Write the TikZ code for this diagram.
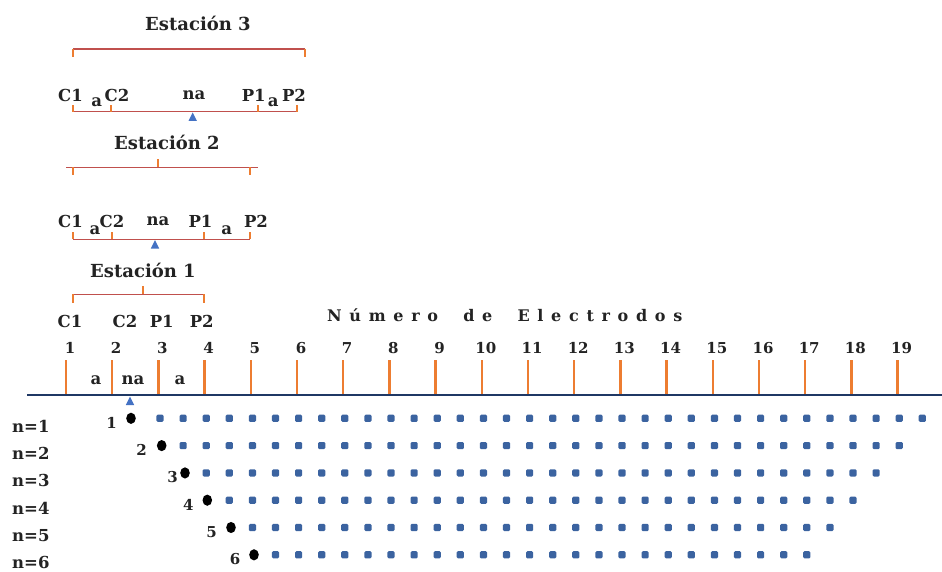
\documentclass[tikz,border=0pt]{standalone}
\usepackage{fontspec}
\setmainfont{DejaVu Serif}
\definecolor{eorange}{RGB}{237,125,49}
\definecolor{bred}{RGB}{192,80,77}
\definecolor{navy}{RGB}{31,56,100}
\definecolor{sqblue}{RGB}{59,99,160}
\definecolor{triblue}{RGB}{68,114,196}
\definecolor{txt}{RGB}{35,35,35}
\begin{document}
\begin{tikzpicture}[x=1pt,y=-1pt,
  lbl/.style={font=\bfseries\fontsize{16.5}{16.5}\selectfont, text=txt, inner sep=0pt},
  ttl/.style={font=\bfseries\fontsize{18}{18}\selectfont, text=txt, inner sep=0pt},
  num/.style={font=\bfseries\fontsize{15}{15}\selectfont, text=txt, inner sep=0pt},
  etick/.style={draw=eorange, line width=2.4pt},
  btick/.style={draw=eorange, line width=2pt},
  bline/.style={draw=bred, line width=1.4pt},
  sq/.style={fill=sqblue, rounded corners=1.3pt},
  tri/.style={fill=triblue},
  blk/.style={fill=black}]
\useasboundingbox (0,0) rectangle (942,572);
\fill[white] (0,0) rectangle (942,572);

% ---------- Estacion 3 ----------
\node[ttl] (t3) at (198,23) {Estación 3};
\coordinate (s3a) at (73,49); \coordinate (s3b) at (305,49);
\draw[bline] (s3a) -- (s3b);
\draw[btick] (s3a) -- ++(0,8); \draw[btick] (s3b) -- ++(0,8);
\coordinate (l3a) at (73,111.7); \coordinate (l3b) at (297,111.7);
\draw[bline] (l3a) -- (l3b);
\foreach \x in {73,111,258,297} \draw[btick] (\x,111.7) -- ++(0,-7);
\node[lbl] (s3c1) at (70.5,95) {C1};
\node[lbl] (s3c2) at (117,95) {C2};
\node[lbl] (s3na) at (194,95) {na};
\node[lbl] (s3p1) at (253.7,95) {P1};
\node[lbl] (s3p2) at (294,95) {P2};
\node[lbl] (s3a1) at (96.7,102.5) {a};
\node[lbl] (s3a2) at (273.3,102.5) {a};
\fill[tri] (188.5,121) -- (196.9,121) -- (192.7,112.5) -- cycle;

% ---------- Estacion 2 ----------
\node[ttl] (t2) at (167,142) {Estación 2};
\draw[bline] (66,167.3) -- (258,167.3);
\draw[btick] (73,167.3) -- ++(0,8); \draw[btick] (250,167.3) -- ++(0,8);
\draw[btick] (157.7,167.3) -- ++(0,-8);
\draw[bline] (73,239.3) -- (250,239.3);
\foreach \x in {73,111.7,204,250} \draw[btick] (\x,239.3) -- ++(0,-7);
\node[lbl] (s2c1) at (70.5,221.7) {C1};
\node[lbl] (s2c2) at (112,221.7) {C2};
\node[lbl] (s2na) at (158,221.7) {na};
\node[lbl] (s2p1) at (200.5,221.7) {P1};
\node[lbl] (s2p2) at (256,221.7) {P2};
\node[lbl] (s2a1) at (95,230.5) {a};
\node[lbl] (s2a2) at (226.7,230.5) {a};
\fill[tri] (150.8,248.5) -- (159.2,248.5) -- (155,240) -- cycle;

% ---------- Estacion 1 ----------
\node[ttl] (t1) at (143,270) {Estación 1};
\draw[bline] (73,294.3) -- (204,294.3);
\draw[btick] (73,294.3) -- ++(0,8.5); \draw[btick] (204,294.3) -- ++(0,8.5);
\draw[btick] (142.7,294.3) -- ++(0,-8);
\node[lbl] (c1) at (70,321.7) {C1};
\node[lbl] (c2) at (125,321.7) {C2};
\node[lbl] (p1) at (161.7,321.7) {P1};
\node[lbl] (p2) at (201.7,321.7) {P2};

% ---------- Numero de electrodos ----------
\node[font=\bfseries\fontsize{16}{16}\selectfont\addfontfeature{LetterSpace=48}, text=txt, inner sep=0pt, anchor=west]
  (ne) at (327,315) {Número\hspace{12pt} de\hspace{12pt} Electrodos};

\foreach \k in {1,...,20} {
  \pgfmathsetmacro\xx{66+(\k-1)*46.2}
  \coordinate (e\k) at (\xx,395);
  \draw[etick] (e\k) -- ++(0,-35);
}
\foreach \k in {1,...,19} {
  \pgfmathsetmacro\xx{66+(\k-1)*46.2+4}
  \node[num] (n\k) at (\xx,348) {\k};
}
\draw[navy, line width=2.6pt] (27,395) -- (942,395);
\node[lbl] (aa1) at (96,380) {a};
\node[lbl] (ana) at (133,380) {na};
\node[lbl] (aa2) at (180,380) {a};
\fill[tri] (125.8,405) -- (134.2,405) -- (130,396.5) -- cycle;

% ---------- pseudo-section ----------
\foreach \n/\dx/\lx/\lnum in {1/131/111.7/1, 2/161.7/141.7/2, 3/185/172.7/3, 4/207.3/188.3/4, 5/231/211.7/5, 6/254/235/6} {
  \pgfmathsetmacro\yy{418.3+(\n-1)*27.3}
  \node[lbl, anchor=west] (nl\n) at (12,\yy+8) {n=\n};
  \fill[blk] (\dx,\yy) ellipse [x radius=4.8pt, y radius=5.6pt];
  \node[num] (dl\n) at (\lx,\yy+4.5) {\lnum};
  \pgfmathtruncatemacro\ka{\n-1}
  \pgfmathtruncatemacro\kb{34-\n}
  \foreach \k in {\ka,...,\kb} {
    \pgfmathsetmacro\sx{160+23.1*\k}
    \fill[sq] (\sx-3.6,\yy-3.6) rectangle (\sx+3.6,\yy+3.6);
  }
}
\end{tikzpicture}
\end{document}
